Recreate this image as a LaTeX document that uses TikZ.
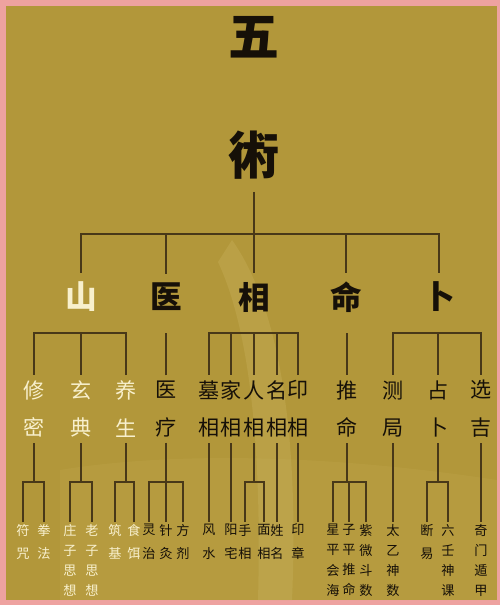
\documentclass[tikz,border=0pt]{standalone}
\usepackage{fontspec}
\newfontfamily\cjk{Noto Sans CJK SC}
\usepackage{tikz}
\definecolor{bgGold}{RGB}{178,151,58}
\definecolor{frameRose}{RGB}{238,162,160}
\definecolor{lineBrown}{RGB}{72,56,24}
\definecolor{inkBlack}{RGB}{22,16,8}
\definecolor{creamWhite}{RGB}{248,240,205}
\definecolor{mistGold}{RGB}{205,182,98}

\begin{document}
\begin{tikzpicture}[x=0.02cm, y=-0.02cm,
    title/.style={font=\cjk\bfseries\fontsize{29}{29}\selectfont, text=inkBlack, inner sep=7pt},
    branch/.style={font=\cjk\bfseries\fontsize{18}{18}\selectfont, text=inkBlack, inner sep=5pt},
    sub/.style={font=\cjk\fontsize{12}{21.5}\selectfont, text=inkBlack, align=center, inner sep=3pt},
    leaf/.style={font=\cjk\fontsize{7.5}{13.5}\selectfont, text=inkBlack, align=center, anchor=north, inner sep=1pt},
    longleaf/.style={leaf, font=\cjk\fontsize{7.5}{11.5}\selectfont},
    pale/.style={text=creamWhite},
    wire/.style={lineBrown, line width=0.8pt}]

    % 背景と枠
    \fill[frameRose] (0,0) rectangle (500,605);
    \fill[bgGold] (6,6) rectangle (497,600);
    \fill[mistGold, opacity=0.3] (232,240) .. controls (275,300) and (300,420) .. (292,600)
        -- (258,600) .. controls (262,450) and (250,330) .. (218,262) -- cycle;
    \fill[mistGold, opacity=0.15] (60,470) .. controls (150,455) and (300,450) .. (497,480)
        -- (497,600) -- (60,600) -- cycle;

    % 題字
    \node[title] (wu) at (254,37) {五};
    \node[title] (shu) at (254,155) {術};

    % 第一層
    \node[branch, pale] (shan) at (81,297) {山};
    \node[branch] (yi) at (166,297) {医};
    \node[branch] (xiang) at (254,297) {相};
    \node[branch] (ming) at (346,297) {命};
    \node[branch] (bu) at (439,297) {卜};

    \coordinate (hub) at (254,234);
    \draw[wire] (shu.south) -- (hub);
    \foreach \n in {shan, yi, xiang, ming, bu}
        \draw[wire] (\n.north) |- (hub);

    % 第二層
    \node[sub, pale] (xiumi) at (34,409) {修\\密};
    \node[sub, pale] (xuandian) at (81,409) {玄\\典};
    \node[sub, pale] (yangsheng) at (126,409) {养\\生};
    \node[sub] (yiliao) at (166,409) {医\\疗};
    \node[sub] (muxiang) at (209,409) {墓\\相};
    \node[sub] (jiaxiang) at (231,409) {家\\相};
    \node[sub] (renxiang) at (254,409) {人\\相};
    \node[sub] (mingxiang) at (277,409) {名\\相};
    \node[sub] (yinxiang) at (298,409) {印\\相};
    \node[sub] (tuiming) at (347,409) {推\\命};
    \node[sub] (ceju) at (393,409) {测\\局};
    \node[sub] (zhanbu) at (438,409) {占\\卜};
    \node[sub] (xuanji) at (481,409) {选\\吉};

    \coordinate (shanBar) at (81,333);
    \coordinate (yiBar) at (166,333);
    \coordinate (xiangBar) at (254,333);
    \coordinate (mingBar) at (347,333);
    \coordinate (buBar) at (438,333);
    \foreach \n in {xiumi, xuandian, yangsheng}
        \draw[wire] (\n.north) |- (shanBar);
    \draw[wire] (yiliao.north) -- (yiBar);
    \foreach \n in {muxiang, jiaxiang, renxiang, mingxiang, yinxiang}
        \draw[wire] (\n.north) |- (xiangBar);
    \draw[wire] (tuiming.north) -- (mingBar);
    \foreach \n in {ceju, zhanbu, xuanji}
        \draw[wire] (\n.north) |- (buBar);

    % 第三層
    \node[leaf, pale] (fuzhou) at (23,522) {符\\咒};
    \node[leaf, pale] (quanfa) at (44,522) {拳\\法};
    \node[longleaf, pale] (zhuangzi) at (70,522) {庄\\子\\思\\想};
    \node[longleaf, pale] (laozi) at (92,522) {老\\子\\思\\想};
    \node[leaf, pale] (zhuji) at (115,522) {筑\\基};
    \node[leaf, pale] (shier) at (134,522) {食\\饵};
    \node[leaf] (lingzhi) at (149,522) {灵\\治};
    \node[leaf] (zhenjiu) at (166,522) {针\\灸};
    \node[leaf] (fangji) at (183,522) {方\\剂};
    \node[leaf] (fengshui) at (209,522) {风\\水};
    \node[leaf] (yangzhai) at (231,522) {阳\\宅};
    \node[leaf] (shouxiang) at (245,522) {手\\相};
    \node[leaf] (mianxiang) at (264,522) {面\\相};
    \node[leaf] (xingming) at (277,522) {姓\\名};
    \node[leaf] (yinzhang) at (298,522) {印\\章};
    \node[longleaf] (xingping) at (333,522) {星\\平\\会\\海};
    \node[longleaf] (ziping) at (349,522) {子\\平\\推\\命};
    \node[longleaf] (ziwei) at (366,522) {紫\\微\\斗\\数};
    \node[longleaf] (taiyi) at (393,522) {太\\乙\\神\\数};
    \node[leaf] (duanyi) at (427,522) {断\\易};
    \node[longleaf] (liuren) at (448,522) {六\\壬\\神\\课};
    \node[longleaf] (qimen) at (481,522) {奇\\门\\遁\\甲};

    \coordinate (xiumiJoint) at (34,482);
    \coordinate (xuandianJoint) at (81,482);
    \coordinate (yangshengJoint) at (126,482);
    \coordinate (yiliaoJoint) at (166,482);
    \coordinate (renxiangJoint) at (254,482);
    \coordinate (tuimingJoint) at (347,482);
    \coordinate (zhanbuJoint) at (438,482);

    \draw[wire] (xiumi.south) -- (xiumiJoint);
    \draw[wire] (fuzhou.north) |- (xiumiJoint);
    \draw[wire] (quanfa.north) |- (xiumiJoint);
    \draw[wire] (xuandian.south) -- (xuandianJoint);
    \draw[wire] (zhuangzi.north) |- (xuandianJoint);
    \draw[wire] (laozi.north) |- (xuandianJoint);
    \draw[wire] (yangsheng.south) -- (yangshengJoint);
    \draw[wire] (zhuji.north) |- (yangshengJoint);
    \draw[wire] (shier.north) |- (yangshengJoint);
    \draw[wire] (yiliao.south) -- (yiliaoJoint);
    \foreach \n in {lingzhi, zhenjiu, fangji}
        \draw[wire] (\n.north) |- (yiliaoJoint);
    \draw[wire] (muxiang.south) -- (fengshui.north);
    \draw[wire] (jiaxiang.south) -- (yangzhai.north);
    \draw[wire] (renxiang.south) -- (renxiangJoint);
    \draw[wire] (shouxiang.north) |- (renxiangJoint);
    \draw[wire] (mianxiang.north) |- (renxiangJoint);
    \draw[wire] (mingxiang.south) -- (xingming.north);
    \draw[wire] (yinxiang.south) -- (yinzhang.north);
    \draw[wire] (tuiming.south) -- (tuimingJoint);
    \foreach \n in {xingping, ziping, ziwei}
        \draw[wire] (\n.north) |- (tuimingJoint);
    \draw[wire] (ceju.south) -- (taiyi.north);
    \draw[wire] (zhanbu.south) -- (zhanbuJoint);
    \draw[wire] (duanyi.north) |- (zhanbuJoint);
    \draw[wire] (liuren.north) |- (zhanbuJoint);
    \draw[wire] (xuanji.south) -- (qimen.north);
\end{tikzpicture}
\end{document}
